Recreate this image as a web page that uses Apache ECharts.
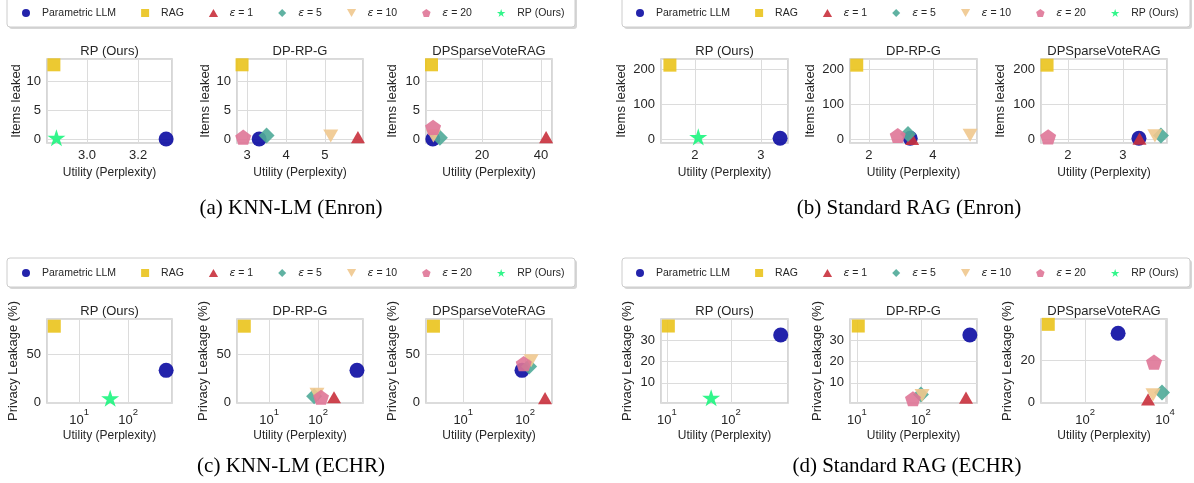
<!DOCTYPE html>
<html>
<head>
<meta charset="utf-8">
<script src="https://cdn.jsdelivr.net/npm/echarts@6/dist/echarts.min.js"></script>
<style>html,body{margin:0;background:#fff}#chart{width:1194px;height:483px}</style>
</head>
<body>
<div id="chart"></div>
<script>
const METHODS = ['Parametric LLM', 'RAG', 'ε = 1', 'ε = 5', 'ε = 10', 'ε = 20', 'RP (Ours)'];

// one x and one y per method, null = not in that panel
// (a) KNN-LM (Enron)
const aRpX = [3.31, 2.87, null, null, null, null, 2.88];
const aRpY = [0, 12.8, null, null, null, null, 0.2];
const aDpX = [3.31, 2.87, 5.85, 3.5, 5.15, 2.9, null];
const aDpY = [0, 12.8, 0.3, 0.6, 0.5, 0.3, null];
const aSvX = [3.31, 2.87, 41.7, 5.7, 3.5, 3.4, null];
const aSvY = [0, 12.8, 0.3, 0.2, 0.5, 2.0, null];
// (b) Standard RAG (Enron)
const bRpX = [3.29, 1.62, null, null, null, null, 2.05];
const bRpY = [2, 211, null, null, null, null, 6];
const bDpX = [3.29, 1.62, 3.35, 3.22, 5.16, 2.9, null];
const bDpY = [2, 211, 0, 14, 11, 10, null];
const bSvX = [3.29, 1.62, 3.3, 3.69, 3.58, 1.64, null];
const bSvY = [2, 211, 1, 10, 9, 6, null];
// (c) KNN-LM (ECHR)
const cRpX = [600, 3.1, null, null, null, null, 43];
const cRpY = [33, 79, null, null, null, null, 4];
const cDpX = [625, 3.1, 212, 83, 95, 115, null];
const cDpY = [33, 79, 5, 6, 8, 5, null];
const cSvX = [89, 3.3, 210, 116, 125, 95, null];
const cSvY = [33, 79, 4, 37, 43, 40, null];
// (d) Standard RAG (ECHR)
const dRpX = [600, 10.5, null, null, null, null, 49];
const dRpY = [32.5, 36.7, null, null, null, null, 3];
const dDpX = [580, 10.5, 505, 100, 104, 75, null];
const dDpY = [32.5, 36.7, 3, 4.5, 4, 2.5, null];
const dSvX = [670, 12, 3760, 8400, 5000, 5300, null];
const dSvY = [32.5, 36.7, 1.5, 4.7, 3.6, 19, null];

const CAPTIONS = ['(a) KNN-LM (Enron)', '(b) Standard RAG (Enron)', '(c) KNN-LM (ECHR)', '(d) Standard RAG (ECHR)'];

const COLORS = ['#0b0ba2', '#eac31c', '#c9303c', '#4faa98', '#f0c88e', '#df7597', '#1cf57e'];
// paths keep their aspect ratio in the legend as well
const SQUARE = 'path://M0,0H100V100H0Z';
const TRI_UP = 'path://M50,0L100,87L0,87Z';
const DIAMOND = 'path://M50,0L100,50L50,100L0,50Z';
const TRI_DOWN = 'path://M0,0L100,0L50,87Z';
const PENTA = 'path://M50,0L97.6,34.5L79.4,90.5L20.6,90.5L2.4,34.5Z';
const STAR = 'path://M50,0L61.2,34.5L97.6,34.5L68.2,55.9L79.4,90.5L50,69.1L20.6,90.5L31.8,55.9L2.4,34.5L38.8,34.5Z';
const SYMBOLS = ['circle', SQUARE, TRI_UP, DIAMOND, TRI_DOWN, PENTA, STAR];
const SIZES = [15, 13, 14, 16, 15, 16, 18];

const FONT = 'Liberation Sans, Arial, sans-serif';
const TXT = '#262626';
const COL_LEFT = [47, 237, 426, 661, 850, 1041];
const COL_W = [125, 126, 126, 127, 127, 126];
const ROW_TOP = [59, 319];
const GRID_H = 84;

const panels = [
  {c:0, r:0, t:'RP (Ours)', x:aRpX, y:aRpY, xa:{min:2.843, max:3.333, step:0.2, dec:1}, ya:{min:-0.7, max:13.8, step:5}, yn:'Items leaked', yg:24},
  {c:1, r:0, t:'DP-RP-G', x:aDpX, y:aDpY, xa:{min:2.74, max:5.98, step:1}, ya:{min:-0.7, max:13.8, step:5}, yn:'Items leaked', yg:25},
  {c:2, r:0, t:'DPSparseVoteRAG', x:aSvX, y:aSvY, xa:{min:1.0, max:43.7, step:20}, ya:{min:-0.7, max:13.8, step:5}, yn:'Items leaked', yg:27},
  {c:3, r:0, t:'RP (Ours)', x:bRpX, y:bRpY, xa:{min:1.485, max:3.41, step:1}, ya:{min:-11.4, max:228.6, step:100}, yn:'Items leaked', yg:33},
  {c:4, r:0, t:'DP-RP-G', x:bDpX, y:bDpY, xa:{min:1.41, max:5.375, step:2}, ya:{min:-11.4, max:228.6, step:100}, yn:'Items leaked', yg:33},
  {c:5, r:0, t:'DPSparseVoteRAG', x:bSvX, y:bSvY, xa:{min:1.51, max:3.8, step:1}, ya:{min:-11.4, max:228.6, step:100}, yn:'Items leaked', yg:34},
  {c:0, r:1, t:'RP (Ours)', x:cRpX, y:cRpY, xa:{log:10, min:2.2, max:790}, ya:{min:-1.0, max:86.5, step:50}, yn:'Privacy Leakage (%)', yg:27},
  {c:1, r:1, t:'DP-RP-G', x:cDpX, y:cDpY, xa:{log:10, min:2.2, max:830}, ya:{min:-1.0, max:86.5, step:50}, yn:'Privacy Leakage (%)', yg:27},
  {c:2, r:1, t:'DPSparseVoteRAG', x:cSvX, y:cSvY, xa:{log:10, min:2.5, max:272}, ya:{min:-1.0, max:86.5, step:50}, yn:'Privacy Leakage (%)', yg:27},
  {c:3, r:1, t:'RP (Ours)', x:dRpX, y:dRpY, xa:{log:10, min:8.06, max:780}, ya:{min:0.5, max:40, step:10}, yn:'Privacy Leakage (%)', yg:27},
  {c:4, r:1, t:'DP-RP-G', x:dDpX, y:dDpY, xa:{log:10, min:7.8, max:750}, ya:{min:0.5, max:40, step:10}, yn:'Privacy Leakage (%)', yg:26},
  {c:5, r:1, t:'DPSparseVoteRAG', x:dSvX, y:dSvY, xa:{log:100, min:7.9, max:11200}, ya:{min:-0.2, max:39.2, step:20}, yn:'Privacy Leakage (%)', yg:27}
];

const baseAxis = {
  axisLine: {show: false},
  axisTick: {show: false},
  splitLine: {lineStyle: {color: '#dcdcdc', width: 1}},
  nameLocation: 'middle',
  nameTextStyle: {color: TXT, fontSize: 13, fontFamily: FONT}
};
const labelBase = {color: TXT, fontSize: 13, fontFamily: FONT, margin: 6, showMinLabel: false, showMaxLabel: false};

const grids = [], xAxes = [], yAxes = [], series = [], graphics = [];

panels.forEach((p, i) => {
  const left = COL_LEFT[p.c], top = ROW_TOP[p.r], w = COL_W[p.c];
  grids.push({left: left, top: top, width: w, height: GRID_H, show: true,
    borderColor: '#cdcdcd', borderWidth: 1.6, backgroundColor: '#fff'});

  let xa;
  if (p.xa.log) {
    xa = Object.assign({}, baseAxis, {
      type: 'log', logBase: p.xa.log, min: p.xa.min, max: p.xa.max,
      axisLabel: Object.assign({}, labelBase, {
        formatter: v => '{b|10}{s|' + Math.round(Math.log10(v)) + '}',
        rich: {
          b: {fontSize: 13, fontFamily: FONT, color: TXT, lineHeight: 20, verticalAlign: 'bottom'},
          s: {fontSize: 9.5, fontFamily: FONT, color: TXT, lineHeight: 20, verticalAlign: 'top'}
        },
        margin: 4
      })
    });
  } else {
    const dec = p.xa.dec || 0;
    xa = Object.assign({}, baseAxis, {
      type: 'value', min: p.xa.min, max: p.xa.max,
      minInterval: p.xa.step, maxInterval: p.xa.step, splitNumber: 2,
      axisLabel: Object.assign({}, labelBase, {formatter: v => v.toFixed(dec)})
    });
  }
  xa.gridIndex = i;
  xa.name = 'Utility (Perplexity)';
  xa.nameGap = p.r === 0 ? 24 : 27;
  xa.nameTextStyle = {color: TXT, fontSize: 12, fontFamily: FONT};
  xAxes.push(xa);

  yAxes.push(Object.assign({}, baseAxis, {
    gridIndex: i, type: 'value', min: p.ya.min, max: p.ya.max,
    minInterval: p.ya.step, maxInterval: p.ya.step, splitNumber: 3,
    name: p.yn, nameGap: p.yg,
    axisLabel: Object.assign({}, labelBase)
  }));

  p.x.forEach((xv, m) => {
    if (xv == null) return;
    series.push({
      type: 'scatter', name: METHODS[m], xAxisIndex: i, yAxisIndex: i,
      data: [[xv, p.y[m]]],
      symbol: SYMBOLS[m], symbolSize: SIZES[m], symbolKeepAspect: true,
      itemStyle: {color: COLORS[m], opacity: 0.9},
      emphasis: {disabled: true}, clip: true, silent: true
    });
  });

  graphics.push({type: 'text', x: left + w / 2, y: top - 8, z: 10,
    style: {text: p.t, fontSize: 13, fontFamily: FONT, fill: TXT, align: 'center', verticalAlign: 'middle'}});
});

// legend boxes
const BOXES = [[7, -6], [622, -6], [7, 258], [622, 258]];
BOXES.forEach(([bx, by]) => {
  graphics.push({type: 'rect', z: 1, shape: {x: bx + 2, y: by + 2, width: 568, height: by < 0 ? 33 : 29, r: 3},
    style: {fill: '#bdbdbd', opacity: 0.6}});
  graphics.push({type: 'rect', z: 2, shape: {x: bx, y: by, width: 568, height: by < 0 ? 33 : 29, r: 3},
    style: {fill: '#fff', stroke: '#cccccc', lineWidth: 1}});
});

const CAP_POS = [[291, 208], [909, 208], [291, 466], [907, 466]];
CAPTIONS.forEach((t, k) => {
  graphics.push({type: 'text', x: CAP_POS[k][0], y: CAP_POS[k][1],
    style: {text: t, fontSize: 21, fontFamily: 'Liberation Serif, Times New Roman, serif', fill: '#000', align: 'center', verticalAlign: 'middle'}});
});

const legendAt = (left, top) => ({
  left: left, top: top, padding: 0, itemGap: 25, itemWidth: 22, itemHeight: 8,
  selectedMode: false, z: 20, data: METHODS,
  formatter: n => n.startsWith('ε') ? '{e|ε}' + n.slice(1) : n,
  textStyle: {color: TXT, fontSize: 10.5, fontFamily: FONT, lineHeight: 14,
    rich: {e: {fontStyle: 'italic', fontFamily: 'DejaVu Sans', fontSize: 11, color: TXT}}}
});

const chart = echarts.init(document.getElementById('chart'));
chart.setOption({
  animation: false,
  backgroundColor: '#fff',
  grid: grids,
  xAxis: xAxes,
  yAxis: yAxes,
  legend: [legendAt(22, 6), legendAt(636, 6), legendAt(22, 266), legendAt(636, 266)],
  graphic: {elements: graphics},
  series: series
});
</script>
</body>
</html>
